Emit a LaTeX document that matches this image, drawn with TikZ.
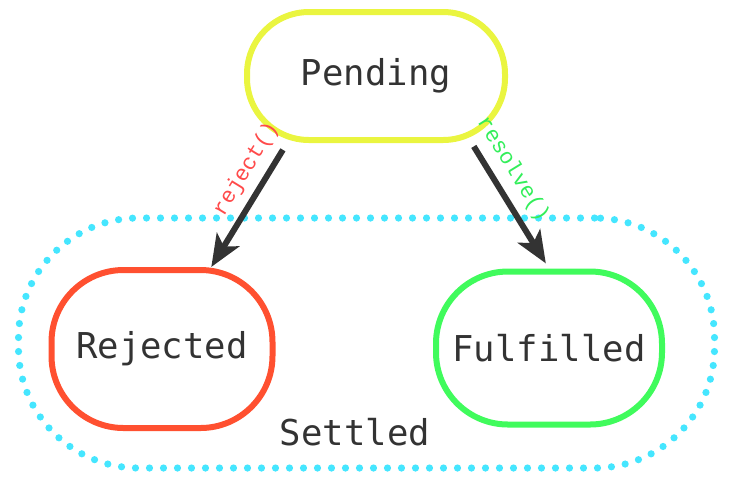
\documentclass[tikz,border=0pt]{standalone}
\usepackage{fontspec}
\setmonofont{DejaVu Sans Mono}
\newfontfamily\callfont{Liberation Mono}
\usepackage{tikz}
\usetikzlibrary{shapes, arrows.meta, positioning}
\definecolor{ink}{HTML}{333333}
\definecolor{pendcol}{HTML}{EAF540}
\definecolor{rejcol}{HTML}{FF5030}
\definecolor{fulcol}{HTML}{40FB5C}
\definecolor{setcol}{HTML}{45E6FF}
\definecolor{rejtext}{HTML}{FF4A4A}
\definecolor{fultext}{HTML}{33EE5A}
\tikzstyle{state} = [rectangle, rounded corners=36pt, line width=3pt, text=ink, font=\ttfamily\fontsize{17.8}{20}\selectfont, text centered]
\tikzstyle{call} = [-{Stealth[length=16pt, width=13pt, inset=4pt]}, line width=3pt, draw=ink]
\tikzstyle{calllabel} = [pos=0.3, above, sloped, inner sep=4pt, font=\callfont\fontsize{11}{12}\selectfont]

\begin{document}
\begin{tikzpicture}[node distance=0cm]
\useasboundingbox (0pt,0pt) rectangle (375pt,-250pt);
\node (settled) [rectangle, rounded corners=60pt, draw=setcol, line width=3.6pt, line cap=round, dash pattern=on 0pt off 7pt, minimum width=348pt, minimum height=125pt] at (183.25pt,-171.5pt) {};
\node (pending) [state, draw=pendcol, minimum width=129pt, minimum height=64pt, rounded corners=31pt] at (188pt,-38pt) {Pending};
\node (rejected) [state, below of=pending, xshift=-107pt, yshift=-136.5pt, draw=rejcol, minimum width=110.5pt, minimum height=79pt] {Rejected};
\node (fulfilled) [state, below of=pending, xshift=86.5pt, yshift=-136pt, draw=fulcol, minimum width=113pt, minimum height=76.5pt] {Fulfilled};
\node (settledlabel) [text=ink, font=\ttfamily\fontsize{17.8}{20}\selectfont] at (177.5pt,-216pt) {Settled};
\draw[call, shorten <=4pt] (pending.217) -- (rejected.59) node[calllabel, text=rejtext] {reject()};
\draw[call, shorten <=2pt, shorten >=3pt] (pending.-35) -- (fulfilled.north) node[calllabel, text=fultext] {resolve()};
\end{tikzpicture}
\end{document}
